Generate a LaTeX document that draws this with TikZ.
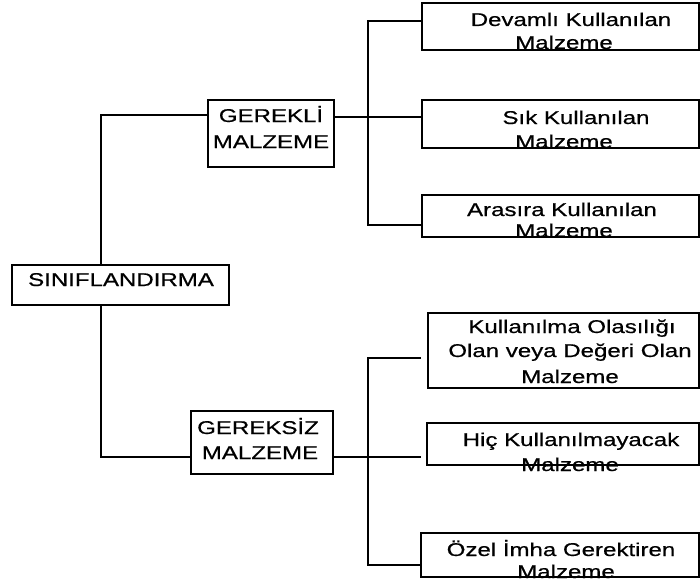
\documentclass[tikz,border=0pt]{standalone}
\usepackage{fontspec}
\newfontfamily\widesans[FakeStretch=1.3,FakeBold=0.6]{Liberation Sans}
\begin{document}
\begin{tikzpicture}[x=1pt,y=-1pt,
  box/.style={draw,line width=1.1pt,inner sep=0pt,outer sep=0pt},
  txt/.style={anchor=base,inner sep=0pt,font=\widesans\fontsize{18.5}{24}\selectfont},
  wire/.style={line width=1.1pt}]
\useasboundingbox[fill=white] (0,0) rectangle (700,583);

% boxes, drawn from their corners
\newcommand\mkbox[5]{\node[box,minimum width={#4-#2},minimum height={#5-#3}] (#1) at ({(#2+#4)/2},{(#3+#5)/2}) {};}
\mkbox{root}{12}{265}{229}{305}
\mkbox{ger}{208}{100}{334}{167}
\mkbox{gsz}{191}{411}{333}{474}
\mkbox{da}{422}{3}{699}{50}
\mkbox{db}{422}{100}{699}{148}
\mkbox{dc}{422}{195}{699}{237}
\mkbox{ea}{428}{313}{699}{388}
\mkbox{eb}{427}{423}{699}{465}
\mkbox{ec}{421}{533}{699}{577}

% texts
\node[txt] (t0) at (121,286) {SINIFLANDIRMA};
\node[txt] (t1a) at (271,122) {GEREKLİ};
\node[txt] (t1b) at (271,148) {MALZEME};
\node[txt] (t2a) at (258,434) {GEREKSİZ};
\node[txt] (t2b) at (260,459) {MALZEME};
\node[txt] (ta1) at (571,26) {Devamlı Kullanılan};
\node[txt] (ta2) at (564,49) {Malzeme};
\node[txt] (tb1) at (576,124) {Sık Kullanılan};
\node[txt] (tb2) at (564,148) {Malzeme};
\node[txt] (tc1) at (562,216) {Arasıra Kullanılan};
\node[txt] (tc2) at (564,237) {Malzeme};
\node[txt] (ua1) at (572,333) {Kullanılma Olasılığı};
\node[txt] (ua2) at (570,357) {Olan veya Değeri Olan};
\node[txt] (ua3) at (570,383) {Malzeme};
\node[txt] (ub1) at (571,446) {Hiç Kullanılmayacak};
\node[txt] (ub2) at (570,471) {Malzeme};
\node[txt] (uc1) at (561,556) {Özel İmha Gerektiren};
\node[txt] (uc2) at (566,578) {Malzeme};

% junction points
\coordinate (ja) at (101,115);
\coordinate (jb) at (101,457);
\coordinate (ka) at (368,21);
\coordinate (kb) at (368,117);
\coordinate (kc) at (368,225);
\coordinate (la) at (368,358);
\coordinate (lb) at (368,457);
\coordinate (lc) at (368,565);

% root to the two groups
\draw[wire] (ja |- root.north) -- (ja) -- (ja -| ger.west);
\draw[wire] (jb |- root.south) -- (jb) -- (jb -| gsz.west);

% first group
\draw[wire] (kb -| ger.east) -- (kb);
\draw[wire] (ka -| da.west) -- (ka) -- (kc) -- (kc -| dc.west);
\draw[wire] (kb) -- (kb -| db.west);

% second group
\draw[wire] (lb -| gsz.east) -- (lb);
\draw[wire] (421,358) -- (la) -- (lc) -- (lc -| ec.west);
\draw[wire] (lb) -- (421,457);
\end{tikzpicture}
\end{document}
